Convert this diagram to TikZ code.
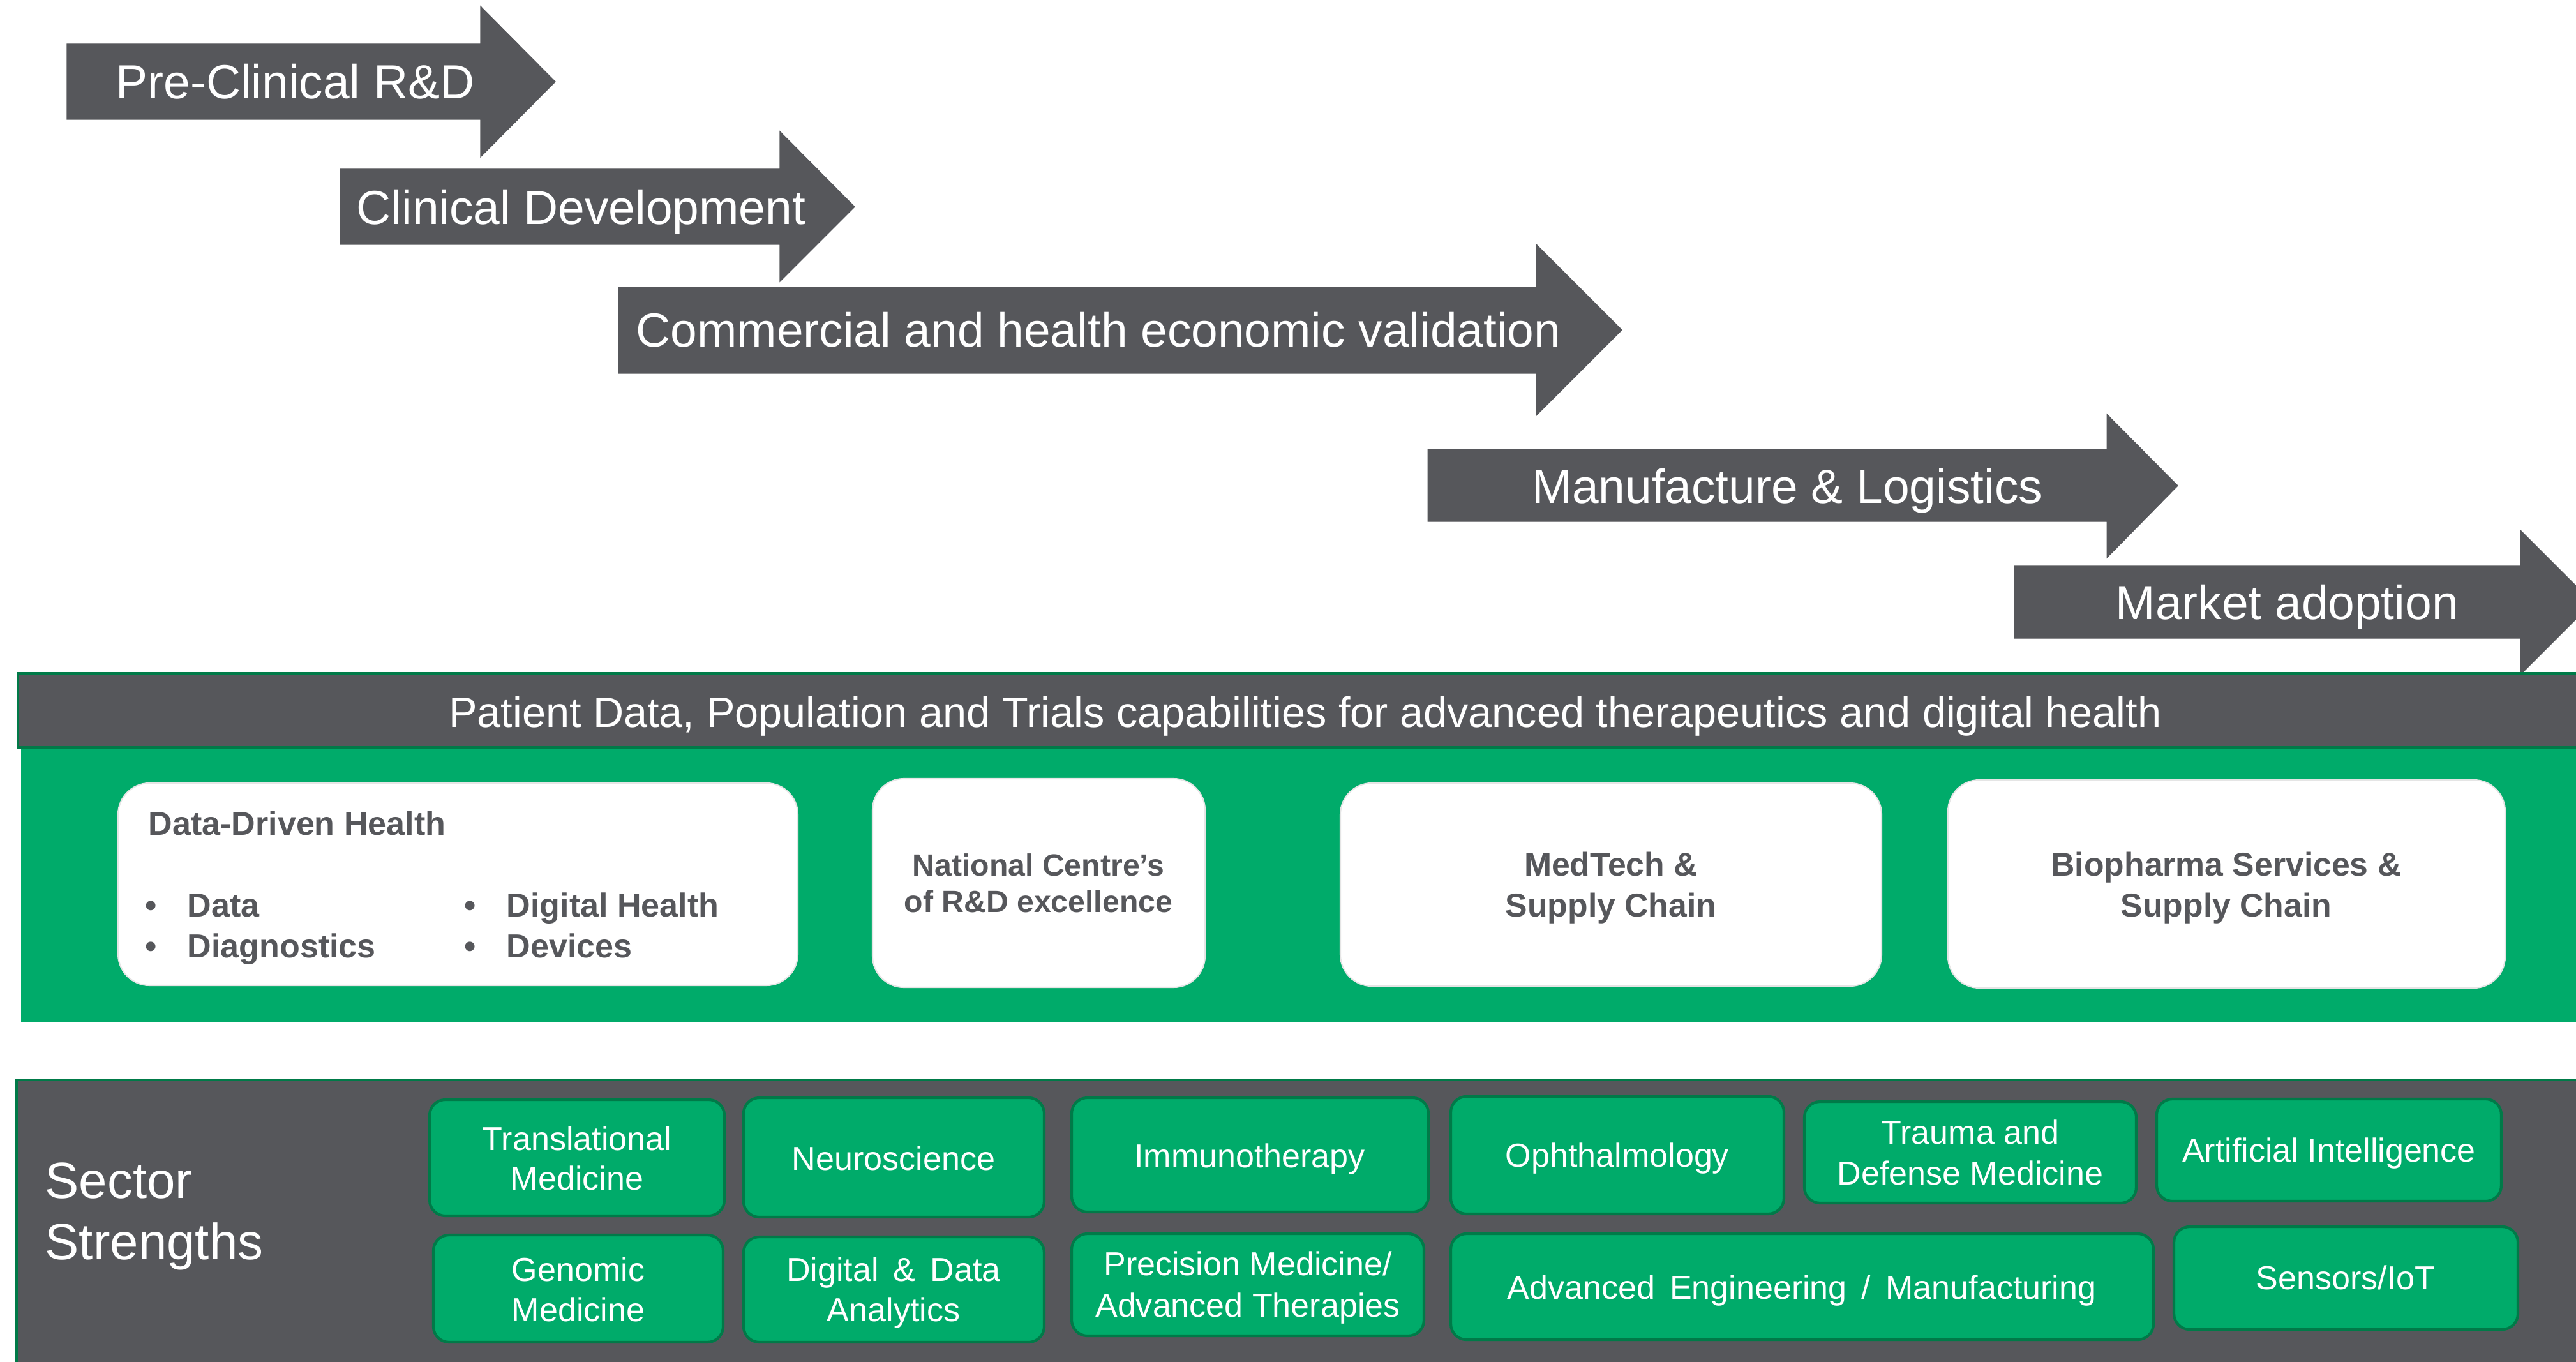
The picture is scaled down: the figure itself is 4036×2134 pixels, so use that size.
\documentclass[tikz,border=0pt]{standalone}
\usepackage{fontspec}
\setmainfont{Liberation Sans}
\usetikzlibrary{fit}
\definecolor{dgray}{RGB}{86,87,91}
\definecolor{mgreen}{RGB}{0,171,106}
\definecolor{dgreen}{RGB}{0,122,72}
\begin{document}
\begin{tikzpicture}[x=0.01cm,y=-0.01cm,
  arrowshape/.style={fill=dgray,draw=dgray,line width=0.3pt},
  arrowtext/.style={text=white,font=\fontsize{21.3}{25}\selectfont,anchor=base west,inner sep=0pt},
  band/.style={draw=dgreen,line width=0.9pt},
  wbox/.style={fill=white,draw=black!10,line width=0.6pt,rounded corners=14pt,inner sep=0pt},
  btext/.style={text=dgray,font=\fontsize{14.8}{18}\selectfont\bfseries,anchor=base west,inner sep=0pt},
  bctext/.style={text=dgray,font=\fontsize{14.7}{18}\selectfont\bfseries,anchor=base,inner sep=0pt},
  tile/.style={fill=mgreen,draw=dgreen,line width=1.2pt,rounded corners=7pt,inner sep=0pt},
  ttext/.style={text=white,font=\fontsize{14.8}{18}\selectfont,anchor=base,inner sep=0pt},
  stext/.style={text=white,font=\fontsize{22.7}{26}\selectfont,anchor=base west,inner sep=0pt}
]
\useasboundingbox (0,0) rectangle (4036,2134);
% process arrows
\fill[arrowshape] (105,69) -- (753,69) -- (753,10) -- (870,128) -- (753,246) -- (753,187) -- (105,187) -- cycle;
\fill[arrowshape] (533,265) -- (1222,265) -- (1222,206) -- (1339,324) -- (1222,441) -- (1222,383) -- (533,383) -- cycle;
\fill[arrowshape] (969,450) -- (2407,450) -- (2407,383) -- (2541,517) -- (2407,651) -- (2407,585) -- (969,585) -- cycle;
\fill[arrowshape] (2237,704) -- (3301,704) -- (3301,649) -- (3412,761) -- (3301,874) -- (3301,817) -- (2237,817) -- cycle;
\fill[arrowshape] (3156,887) -- (3949,887) -- (3949,831) -- (4062,944) -- (3949,1057) -- (3949,1000) -- (3156,1000) -- cycle;
\node[arrowtext] (t1) at (181,155) {Pre-Clinical R\&D};
\node[arrowtext] (t2) at (558,352) {Clinical Development};
\node[arrowtext] (t3) at (996,544) {Commercial and health economic validation};
\node[arrowtext] (t4) at (2400,788) {Manufacture \& Logistics};
\node[arrowtext] (t5) at (3314,970) {Market adoption};
% capability band
\fill[mgreen] (33,1171) rectangle (4040,1601);
\filldraw[band,fill=dgray] (28,1055) rectangle (4040,1171);
\node[text=white,font=\fontsize{18.95}{22}\selectfont,anchor=base,inner sep=0pt] (hdr) at (2045,1139)
  {Patient Data, Population and Trials capabilities for advanced therapeutics and digital health};
\node[wbox,fit={(185,1227) (1250,1544)}] (ddh) {};
\node[btext] (ddht) at (232,1308) {Data-Driven Health};
\node[btext] (b1) at (227,1436) {•};
\node[btext] (b2) at (227,1500) {•};
\node[btext] (b3) at (727,1436) {•};
\node[btext] (b4) at (727,1500) {•};
\node[btext] (i1) at (293,1436) {Data};
\node[btext] (i2) at (293,1500) {Diagnostics};
\node[btext] (i3) at (793,1436) {Digital Health};
\node[btext] (i4) at (793,1500) {Devices};
\node[wbox,fit={(1367,1220) (1888,1547)}] (ncr) {};
\node[bctext,font=\fontsize{13.7}{16}\selectfont\bfseries] (ncr1) at (1627,1372) {National Centre’s};
\node[bctext,font=\fontsize{13.7}{16}\selectfont\bfseries] (ncr2) at (1627,1429) {of R\&D excellence};
\node[wbox,fit={(2100,1227) (2948,1545)}] (med) {};
\node[bctext] (med1) at (2524,1372) {MedTech \&};
\node[bctext] (med2) at (2524,1436) {Supply Chain};
\node[wbox,fit={(3052,1222) (3925,1548)}] (bio) {};
\node[bctext] (bio1) at (3488,1372) {Biopharma Services \&};
\node[bctext] (bio2) at (3488,1436) {Supply Chain};
% sector strengths
\filldraw[band,fill=dgray] (26,1692) rectangle (4040,2140);
\node[stext] (s1) at (70,1877) {Sector};
\node[stext] (s2) at (70,1973) {Strengths};
% row 1
\node[tile,fit={(673,1723) (1135,1905)}] (tm) {};
\node[ttext] (tm1) at (904,1802) {Translational};
\node[ttext] (tm2) at (904,1864) {Medicine};
\node[tile,fit={(1165,1720) (1636,1907)}] (ns) {};
\node[ttext] (ns1) at (1400,1833) {Neuroscience};
\node[tile,fit={(1679,1720) (2238,1899)}] (im) {};
\node[ttext] (im1) at (1958,1829) {Immunotherapy};
\node[tile,fit={(2273,1718) (2795,1902)}] (op) {};
\node[ttext] (op1) at (2534,1828) {Ophthalmology};
\node[tile,fit={(2827,1726) (3347,1885)}] (tr) {};
\node[ttext] (tr1) at (3087,1792) {Trauma and};
\node[ttext] (tr2) at (3087,1856) {Defense Medicine};
\node[tile,fit={(3379,1722) (3919,1882)}] (ai) {};
\node[ttext] (ai1) at (3649,1820) {Artificial Intelligence};
% row 2
\node[tile,fit={(679,1935) (1133,2103)}] (gm) {};
\node[ttext] (gm1) at (906,2007) {Genomic};
\node[ttext] (gm2) at (906,2070) {Medicine};
\node[tile,fit={(1165,1938) (1636,2103)}] (dd) {};
\node[ttext] (dd1) at (1400,2007) {Digital \,\&\, Data};
\node[ttext] (dd2) at (1400,2070) {Analytics};
\node[tile,fit={(1679,1933) (2231,2093)}] (pm) {};
\node[ttext] (pm1) at (1955,1998) {Precision Medicine/};
\node[ttext] (pm2) at (1955,2063) {Advanced Therapies};
\node[tile,fit={(2273,1933) (3374,2099)}] (ae) {};
\node[ttext] (ae1) at (2823,2035) {Advanced \,Engineering \,/\, Manufacturing};
\node[tile,fit={(3406,1922) (3945,2083)}] (si) {};
\node[ttext] (si1) at (3675,2020) {Sensors/IoT};
\end{tikzpicture}
\end{document}
